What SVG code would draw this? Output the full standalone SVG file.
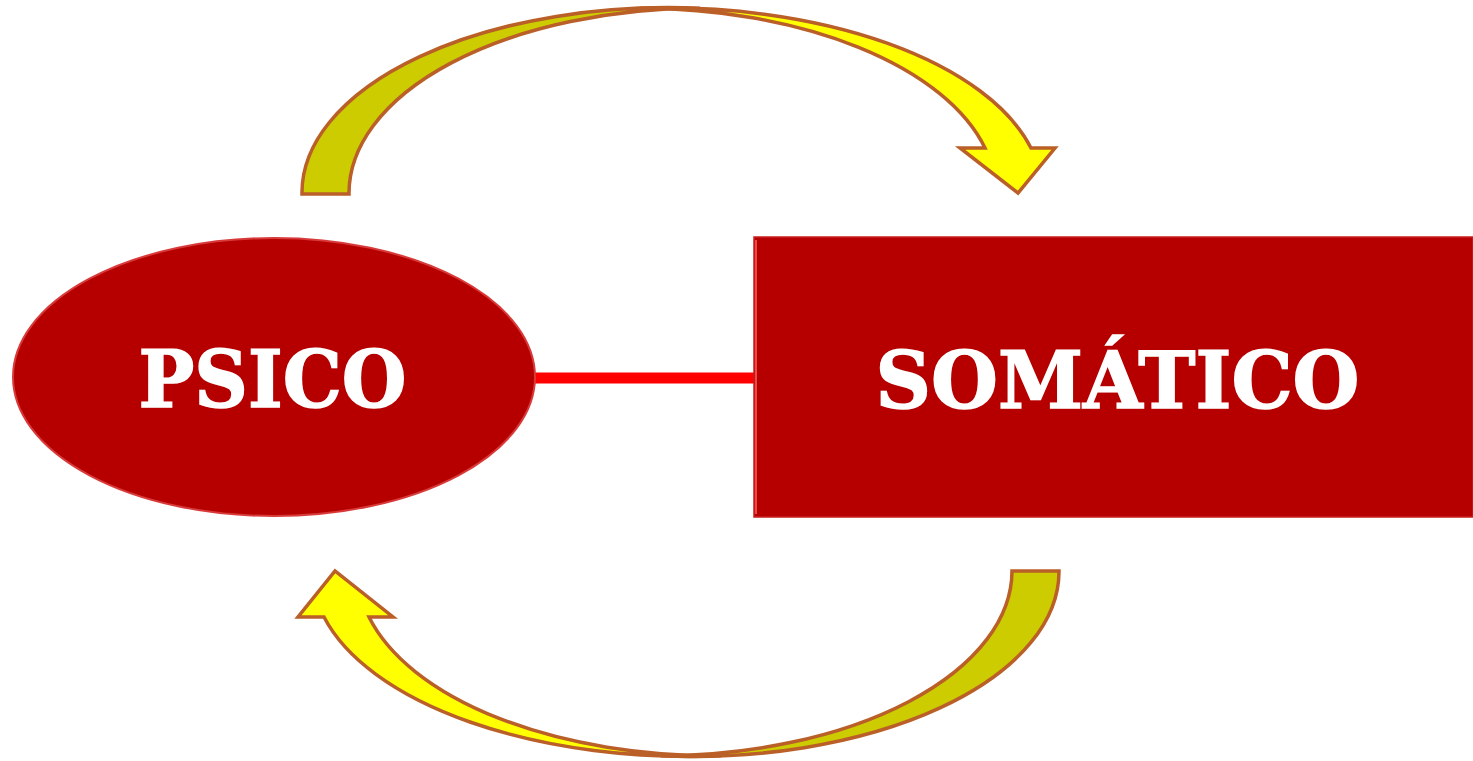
<svg xmlns="http://www.w3.org/2000/svg" width="1473" height="761" viewBox="0 0 1473 761">
  <style>
    .arrow-back { fill: #CCCC00; stroke: #BA5F27; stroke-width: 3.5; stroke-linejoin: miter; }
    .arrow-front { fill: #FFFF00; stroke: #BA5F27; stroke-width: 3.5; stroke-linejoin: miter; }
    .label { font-family: "DejaVu Serif", "Liberation Serif", serif; font-weight: bold; font-size: 78px; fill: #FFFFFF; stroke: #FFFFFF; stroke-width: 1.5; stroke-linejoin: miter; }
    .node-fill { fill: #B60000; }
  </style>
  <rect width="1473" height="761" fill="#FFFFFF"/>
  <g id="connectors">
    <line x1="533" y1="378" x2="756" y2="378" stroke="#FF0000" stroke-width="11"/>
    <g id="arrow-top">
      <path class="arrow-back" d="M 302,194 A 366,185 0 0 1 700,8.3 A 352,185 0 0 0 349,194 Z"/>
      <path class="arrow-front" d="M 640,8.3 A 376,185 0 0 1 1031,148 L 1055,148 L 1018,193 L 960,148 L 985,148 A 356,185 0 0 0 640,8.3 Z"/>
    </g>
    <g id="arrow-bottom">
      <path class="arrow-back" d="M 1059,571 A 366,185 0 0 1 661,755.7 A 352,185 0 0 0 1012,571 Z"/>
      <path class="arrow-front" d="M 721,755.7 A 376,185 0 0 1 324,617 L 298,617 L 335,571 L 393,617 L 369,617 A 356,185 0 0 0 721,755.7 Z"/>
    </g>
  </g>
  <g id="node-psico">
    <ellipse class="node-fill" cx="274" cy="377" rx="261" ry="139" stroke="#D83A3A" stroke-width="2"/>
    <text class="label" x="272.5" y="407" text-anchor="middle" textLength="268" lengthAdjust="spacingAndGlyphs">PSICO</text>
  </g>
  <g id="node-somatico">
    <rect class="node-fill" x="754" y="237" width="719" height="280"/>
    <rect x="754" y="237" width="719" height="280" fill="none" stroke="#C81E1E" stroke-width="1.5"/>
    <line x1="756" y1="240" x2="756" y2="514" stroke="#F04848" stroke-width="2"/>
    <text class="label" x="1117.5" y="408" text-anchor="middle" textLength="484" lengthAdjust="spacingAndGlyphs">SOMÁTICO</text>
  </g>
</svg>
